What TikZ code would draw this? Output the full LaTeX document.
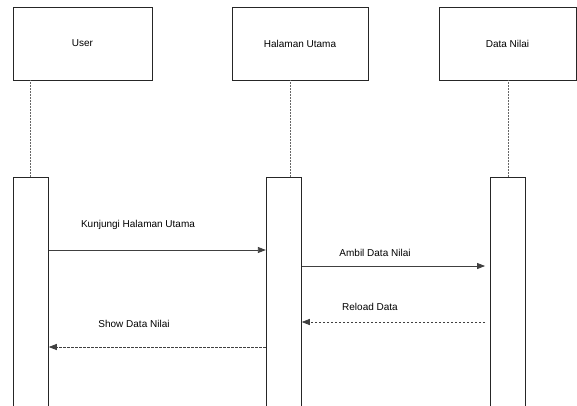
\documentclass[tikz,border=0pt]{standalone}
\usepackage{fontspec}
\setmainfont{Liberation Sans}
\usetikzlibrary{arrows.meta}

\begin{document}
\begin{tikzpicture}[
        x=1pt, y=-1pt,
        actor box/.style={draw=black!85, line width=0.9pt, minimum height=73pt, inner sep=0pt, font=\fontsize{10}{12}\selectfont},
        activation/.style={draw=black!85, line width=0.9pt, minimum width=35pt, minimum height=235pt, inner sep=0pt, anchor=north},
        lifeline/.style={draw=black!60, line width=0.9pt, dash pattern=on 2pt off 1pt},
        call/.style={draw=black!75, line width=0.8pt, -{Triangle[length=8pt, width=6pt]}},
        reply/.style={call, dash pattern=on 2.5pt off 1.5pt},
        msg label/.style={font=\fontsize{10}{12}\selectfont}
      ]

      \useasboundingbox (0,0) rectangle (577,405);

      % objects
      \node[actor box, minimum width=139pt] (user) at (82.5,43.5) {User};
      \node[actor box, minimum width=136pt] (halaman) at (300,43.5) {Halaman Utama};
      \node[actor box, minimum width=137pt] (data) at (507.5,43.5) {Data Nilai};

      % activation bars
      \node[activation] (actU) at (30.8,177) {};
      \node[activation] (actH) at (283.8,177) {};
      \node[activation] (actD) at (508,177) {};

      % lifelines
      \draw[lifeline] (actU.north) -- (actU.north |- user.south);
      \draw[lifeline] ([xshift=6.2pt]actH.north) -- ([xshift=6.2pt]actH.north |- halaman.south);
      \draw[lifeline] (actD.north) -- (actD.north |- data.south);

      % message levels
      \coordinate (m1) at (0,250);
      \coordinate (m2) at (0,266);
      \coordinate (m3) at (0,322);
      \coordinate (m4) at (0,347);

      % messages
      \draw[call] (actU.east |- m1) -- (actH.west |- m1);
      \node[msg label] (l1) at (138,225) {Kunjungi Halaman Utama};

      \draw[call] (actH.east |- m2) -- ([xshift=-5pt]actD.west |- m2);
      \node[msg label] (l2) at (375,253) {Ambil Data Nilai};

      \draw[reply] ([xshift=-5pt]actD.west |- m3) -- (actH.east |- m3);
      \node[msg label] (l3) at (370,307) {Reload Data};

      \draw[reply] (actH.west |- m4) -- (actU.east |- m4);
      \node[msg label] (l4) at (134,324) {Show Data Nilai};

    \end{tikzpicture}
\end{document}
